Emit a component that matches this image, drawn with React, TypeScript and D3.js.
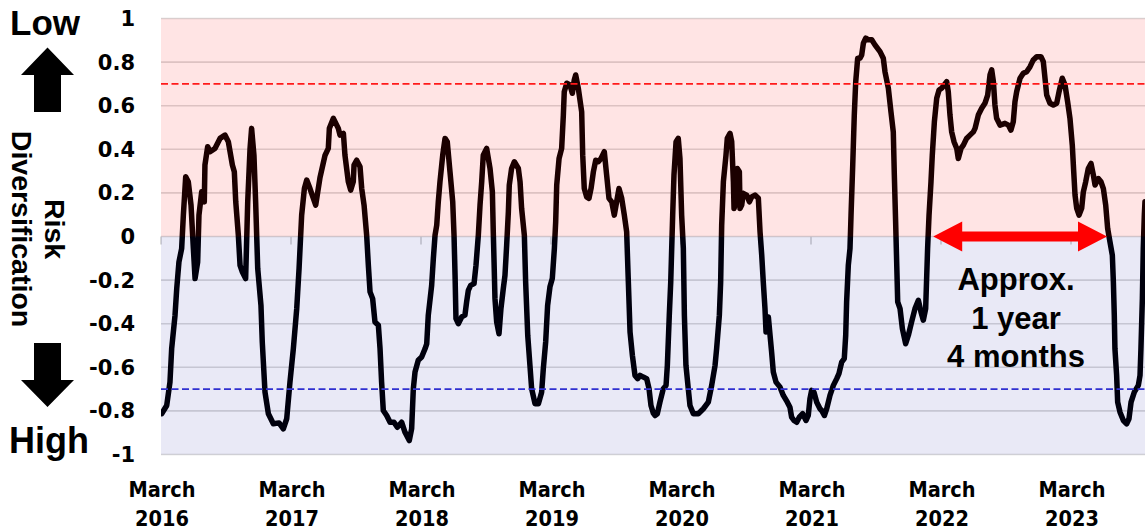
import React from "react";
import * as d3 from "d3";

// years elapsed since March 2016
const tYears = [
  0.005, 0.044, 0.069, 0.082, 0.108, 0.121, 0.138, 0.159, 0.172, 0.19, 0.21, 0.231, 0.249, 0.262, 0.282, 0.292,
  0.313, 0.333, 0.338, 0.359, 0.377, 0.415, 0.454, 0.492, 0.518, 0.549, 0.564, 0.575, 0.595, 0.608, 0.626, 0.651,
  0.667, 0.685, 0.697, 0.715, 0.728, 0.744, 0.769, 0.779, 0.8, 0.826, 0.864, 0.908, 0.941, 0.967, 0.992, 1.018,
  1.044, 1.062, 1.082, 1.103, 1.121, 1.146, 1.19, 1.223, 1.262, 1.287, 1.295, 1.326, 1.364, 1.377, 1.403, 1.415,
  1.441, 1.459, 1.479, 1.485, 1.505, 1.531, 1.544, 1.562, 1.582, 1.595, 1.608, 1.628, 1.646, 1.672, 1.685, 1.697,
  1.71, 1.736, 1.762, 1.792, 1.818, 1.851, 1.877, 1.91, 1.928, 1.941, 1.954, 1.979, 2.005, 2.031, 2.044, 2.056,
  2.082, 2.095, 2.108, 2.121, 2.133, 2.146, 2.167, 2.185, 2.202, 2.223, 2.244, 2.254, 2.262, 2.269, 2.287, 2.313,
  2.338, 2.351, 2.364, 2.382, 2.408, 2.423, 2.441, 2.454, 2.467, 2.479, 2.505, 2.531, 2.549, 2.556, 2.562, 2.569,
  2.582, 2.6, 2.615, 2.633, 2.646, 2.659, 2.672, 2.679, 2.697, 2.718, 2.749, 2.762, 2.774, 2.795, 2.805, 2.821,
  2.838, 2.851, 2.877, 2.903, 2.928, 2.941, 2.959, 2.974, 2.992, 3.01, 3.026, 3.036, 3.044, 3.062, 3.082, 3.095,
  3.102, 3.121, 3.146, 3.164, 3.179, 3.19, 3.21, 3.236, 3.244, 3.256, 3.274, 3.292, 3.308, 3.326, 3.344, 3.364,
  3.385, 3.41, 3.428, 3.446, 3.467, 3.487, 3.505, 3.523, 3.544, 3.564, 3.582, 3.595, 3.608, 3.626, 3.646, 3.667,
  3.685, 3.71, 3.736, 3.754, 3.769, 3.787, 3.8, 3.818, 3.838, 3.864, 3.885, 3.895, 3.91, 3.921, 3.936, 3.946,
  3.962, 3.979, 3.992, 4.005, 4.018, 4.026, 4.038, 4.056, 4.069, 4.095, 4.133, 4.172, 4.21, 4.236, 4.262, 4.274,
  4.295, 4.305, 4.313, 4.326, 4.346, 4.356, 4.377, 4.39, 4.403, 4.408, 4.423, 4.433, 4.449, 4.454, 4.467, 4.479,
  4.505, 4.526, 4.544, 4.569, 4.595, 4.608, 4.621, 4.633, 4.646, 4.654, 4.672, 4.685, 4.697, 4.71, 4.731, 4.762,
  4.787, 4.818, 4.838, 4.851, 4.869, 4.89, 4.91, 4.936, 4.962, 4.979, 4.992, 5.005, 5.023, 5.044, 5.069, 5.082,
  5.103, 5.121, 5.146, 5.172, 5.198, 5.215, 5.236, 5.256, 5.267, 5.274, 5.287, 5.3, 5.308, 5.321, 5.333, 5.344,
  5.359, 5.377, 5.39, 5.403, 5.421, 5.441, 5.467, 5.492, 5.531, 5.556, 5.569, 5.595, 5.615, 5.633, 5.641, 5.651,
  5.659, 5.667, 5.685, 5.703, 5.728, 5.749, 5.774, 5.8, 5.826, 5.846, 5.864, 5.882, 5.897, 5.908, 5.923, 5.933,
  5.949, 5.967, 5.985, 6.005, 6.025, 6.044, 6.056, 6.069, 6.082, 6.1, 6.121, 6.133, 6.154, 6.172, 6.197, 6.223,
  6.249, 6.262, 6.287, 6.313, 6.338, 6.359, 6.377, 6.39, 6.403, 6.415, 6.428, 6.454, 6.492, 6.518, 6.538, 6.556,
  6.569, 6.582, 6.608, 6.633, 6.659, 6.685, 6.71, 6.736, 6.769, 6.787, 6.8, 6.813, 6.838, 6.864, 6.89, 6.908,
  6.933, 6.954, 6.974, 6.992, 7.01, 7.021, 7.031, 7.044, 7.062, 7.082, 7.095, 7.113, 7.133, 7.154, 7.172, 7.185,
  7.21, 7.231, 7.249, 7.267, 7.282, 7.3, 7.318, 7.326, 7.333, 7.338, 7.351, 7.359, 7.377, 7.403, 7.428, 7.446,
  7.462, 7.487, 7.518, 7.531, 7.538, 7.549, 7.556, 7.564, 7.569,
];

const riskDiv = [
  -0.813, -0.775, -0.668, -0.515, -0.361, -0.239, -0.117, -0.055, 0.098, 0.274, 0.251, 0.144, -0.055, -0.193, -0.117, 0.098,
  0.205, 0.159, 0.328, 0.412, 0.389, 0.404, 0.45, 0.465, 0.435, 0.328, 0.297, 0.159, 0.006, -0.132, -0.163, -0.193,
  0.159, 0.404, 0.496, 0.373, 0.159, -0.147, -0.316, -0.484, -0.714, -0.813, -0.859, -0.855, -0.882, -0.836, -0.668, -0.515,
  -0.331, -0.147, 0.098, 0.22, 0.259, 0.22, 0.144, 0.27, 0.373, 0.404, 0.496, 0.542, 0.496, 0.465, 0.473, 0.373,
  0.251, 0.213, 0.251, 0.328, 0.35, 0.32, 0.22, 0.144, 0.006, -0.132, -0.254, -0.285, -0.392, -0.407, -0.515, -0.668,
  -0.798, -0.821, -0.852, -0.852, -0.875, -0.852, -0.898, -0.936, -0.882, -0.698, -0.622, -0.568, -0.553, -0.515, -0.492, -0.361,
  -0.224, -0.101, 0.006, 0.052, 0.159, 0.251, 0.373, 0.45, 0.435, 0.297, 0.159, 0.006, -0.178, -0.377, -0.4, -0.369,
  -0.361, -0.3, -0.247, -0.224, -0.216, -0.132, 0.006, 0.144, 0.251, 0.373, 0.404, 0.312, 0.205, 0.021, -0.117, -0.285,
  -0.392, -0.446, -0.331, -0.239, -0.178, -0.04, 0.113, 0.236, 0.312, 0.343, 0.312, 0.251, 0.129, 0.006, -0.209, -0.453,
  -0.591, -0.698, -0.767, -0.767, -0.714, -0.606, -0.484, -0.316, -0.231, -0.193, -0.055, 0.067, 0.236, 0.358, 0.404, 0.557,
  0.664, 0.703, 0.695, 0.657, 0.718, 0.741, 0.68, 0.572, 0.373, 0.22, 0.182, 0.175, 0.22, 0.297, 0.35, 0.343,
  0.358, 0.389, 0.282, 0.175, 0.159, 0.098, 0.159, 0.22, 0.175, 0.098, 0.021, -0.209, -0.438, -0.545, -0.637, -0.652,
  -0.637, -0.645, -0.652, -0.698, -0.775, -0.81, -0.821, -0.813, -0.76, -0.698, -0.683, -0.591, -0.361, -0.209, 0.098, 0.282,
  0.435, 0.45, 0.358, 0.098, -0.055, -0.361, -0.591, -0.698, -0.775, -0.813, -0.813, -0.79, -0.76, -0.683, -0.591, -0.515,
  -0.361, -0.209, 0.052, 0.251, 0.373, 0.45, 0.473, 0.435, 0.251, 0.129, 0.159, 0.312, 0.297, 0.129, 0.144, 0.198,
  0.19, 0.159, 0.182, 0.19, 0.175, 0.021, -0.086, -0.209, -0.331, -0.438, -0.369, -0.453, -0.53, -0.622, -0.668, -0.691,
  -0.729, -0.76, -0.783, -0.829, -0.844, -0.852, -0.829, -0.813, -0.844, -0.821, -0.744, -0.706, -0.714, -0.76, -0.79, -0.798,
  -0.821, -0.79, -0.729, -0.683, -0.652, -0.629, -0.576, -0.56, -0.453, -0.3, -0.132, -0.055, 0.098, 0.328, 0.557, 0.71,
  0.818, 0.818, 0.833, 0.887, 0.91, 0.902, 0.902, 0.879, 0.848, 0.818, 0.756, 0.68, 0.572, 0.48, 0.282, 0.067,
  -0.117, -0.3, -0.331, -0.423, -0.492, -0.453, -0.392, -0.331, -0.293, -0.346, -0.384, -0.331, -0.055, 0.098, 0.251, 0.373,
  0.526, 0.634, 0.672, 0.68, 0.695, 0.71, 0.664, 0.557, 0.48, 0.435, 0.404, 0.358, 0.404, 0.419, 0.45, 0.465,
  0.48, 0.496, 0.557, 0.588, 0.611, 0.649, 0.741, 0.764, 0.71, 0.603, 0.542, 0.511, 0.519, 0.511, 0.488, 0.526,
  0.618, 0.664, 0.726, 0.749, 0.756, 0.779, 0.81, 0.825, 0.825, 0.802, 0.726, 0.649, 0.611, 0.603, 0.611, 0.664,
  0.726, 0.695, 0.618, 0.542, 0.419, 0.297, 0.19, 0.129, 0.098, 0.129, 0.205, 0.251, 0.312, 0.335, 0.282, 0.236,
  0.266, 0.251, 0.22, 0.144, 0.037, -0.025, -0.086, -0.209, -0.361, -0.515, -0.637, -0.76, -0.806, -0.844, -0.859, -0.836,
  -0.76, -0.714, -0.683, -0.637, -0.515, -0.285, -0.055, 0.098, 0.159,
];

const yTicks = [1, 0.8, 0.6, 0.4, 0.2, 0, -0.2, -0.4, -0.6, -0.8, -1];
const yTickLabels = ["1", "0.8", "0.6", "0.4", "0.2", "0", "-0.2", "-0.4", "-0.6", "-0.8", "-1"];
const xTickYears = [0, 1, 2, 3, 4, 5, 6, 7];
const xTickMonth = "March";
const xTickLabels = ["2016", "2017", "2018", "2019", "2020", "2021", "2022", "2023"];
const upperThreshold = 0.7;
const lowerThreshold = -0.7;
const arrowSpan = [5.94, 7.277];
const annotationLines = ["Approx.", "1 year", "4 months"];

export default function App() {
  const W = 1145;
  const H = 532;
  const plotLeft = 161;
  const plotRight = W;
  const x = d3.scaleLinear().domain([0, 1]).range([161, 291]);
  const y = d3.scaleLinear().domain([-1, 1]).range([454.5, 18.5]);

  const pts = tYears.map((t, i) => [t, riskDiv[i]] as [number, number]);
  const linePath = d3
    .line<[number, number]>()
    .x((d) => x(d[0]))
    .y((d) => y(d[1]))(pts) as string;

  const y0 = y(0);
  const ax0 = x(arrowSpan[0]);
  const ax1 = x(arrowSpan[1]);
  const headL = 29;
  const headH = 15;
  const shaftH = 5;
  const arrowPts = [
    [ax0, y0],
    [ax0 + headL, y0 - headH],
    [ax0 + headL, y0 - shaftH],
    [ax1 - headL, y0 - shaftH],
    [ax1 - headL, y0 - headH],
    [ax1, y0],
    [ax1 - headL, y0 + headH],
    [ax1 - headL, y0 + shaftH],
    [ax0 + headL, y0 + shaftH],
    [ax0 + headL, y0 + headH],
  ]
    .map((p) => p.join(","))
    .join(" ");

  const arial = "'Liberation Sans', Arial, sans-serif";

  return (
    <div style={{ position: "fixed", left: 0, top: 0, width: W, height: H, background: "#fff" }}>
      <svg width={W} height={H} viewBox={`0 0 ${W} ${H}`} style={{ display: "block" }}>
        <defs>
          <clipPath id="plotClip">
            <rect x={plotLeft} y={0} width={plotRight - plotLeft} height={H} />
          </clipPath>
        </defs>

        {/* gridlines */}
        {yTicks.map((v) => (
          <line
            key={"g" + v}
            x1={plotLeft}
            x2={plotRight}
            y1={y(v)}
            y2={y(v)}
            stroke="#d9d9d9"
            strokeWidth={1.6}
          />
        ))}

        {/* zero axis ticks */}
        {xTickYears.map((t) => (
          <line
            key={"t" + t}
            x1={x(t)}
            x2={x(t)}
            y1={y0}
            y2={y0 + 8}
            stroke="#cfcfcf"
            strokeWidth={1.6}
          />
        ))}

        {/* data line */}
        <g clipPath="url(#plotClip)">
          <path
            d={linePath}
            fill="none"
            stroke="#000"
            strokeWidth={5.5}
            strokeLinejoin="round"
            strokeLinecap="round"
          />
        </g>

        {/* translucent bands */}
        <rect x={plotLeft} y={y(1)} width={plotRight - plotLeft} height={y(0) - y(1)} fill="#ff0000" opacity={0.105} />
        <rect x={plotLeft} y={y(0)} width={plotRight - plotLeft} height={y(-1) - y(0)} fill="#000096" opacity={0.085} />

        {/* thresholds */}
        <line
          x1={plotLeft}
          x2={plotRight}
          y1={y(upperThreshold)}
          y2={y(upperThreshold)}
          stroke="#ff1a1a"
          strokeWidth={1.6}
          strokeDasharray="7,3.5"
        />
        <line
          x1={plotLeft}
          x2={plotRight}
          y1={y(lowerThreshold)}
          y2={y(lowerThreshold)}
          stroke="#3030d0"
          strokeWidth={1.6}
          strokeDasharray="7,3.5"
        />

        {/* y tick labels */}
        {yTicks.map((v, i) => (
          <text
            key={"yl" + v}
            x={135}
            y={y(v)}
            dy="0.36em"
            textAnchor="end"
            fontFamily="'DejaVu Sans', sans-serif"
            fontWeight="bold"
            fontSize={21}
            fill="#000"
          >
            {yTickLabels[i]}
          </text>
        ))}

        {/* x tick labels */}
        {xTickYears.map((t, i) => (
          <g key={"xl" + t} fontFamily="'DejaVu Sans Condensed', 'DejaVu Sans', sans-serif" fontWeight="bold" fontSize={21.5} style={{ fontStretch: "condensed" }}>
            <text x={x(t) + 1} y={497} textAnchor="middle" fill="#000">
              {xTickMonth}
            </text>
            <text x={x(t) + 1} y={526} textAnchor="middle" fill="#000">
              {xTickLabels[i]}
            </text>
          </g>
        ))}

        {/* left side annotations */}
        <text x={10} y={35} fontFamily={arial} fontWeight="bold" fontSize={35} fill="#000">
          Low
        </text>
        <text x={9} y={453} fontFamily={arial} fontWeight="bold" fontSize={36} fill="#000">
          High
        </text>
        <polygon points="47.5,47.5 74,75 61,75 61,112 34,112 34,75 21,75" fill="#000" />
        <polygon points="47.5,407 74,380 61,380 61,343 34,343 34,380 21,380" fill="#000" />
        <g fontFamily={arial} fontWeight="bold" fontSize={28.5} fill="#000">
          <text transform="translate(45,229) rotate(90)" textAnchor="middle">
            Risk
          </text>
          <text transform="translate(12,229) rotate(90)" textAnchor="middle">
            Diversification
          </text>
        </g>

        {/* duration arrow */}
        <polygon points={arrowPts} fill="#ff0000" />
        <g fontFamily={arial} fontWeight="bold" fontSize={31} fill="#000" textAnchor="middle">
          {annotationLines.map((s, i) => (
            <text key={s} x={1016} y={290 + i * 38.5}>
              {s}
            </text>
          ))}
        </g>
      </svg>
    </div>
  );
}
